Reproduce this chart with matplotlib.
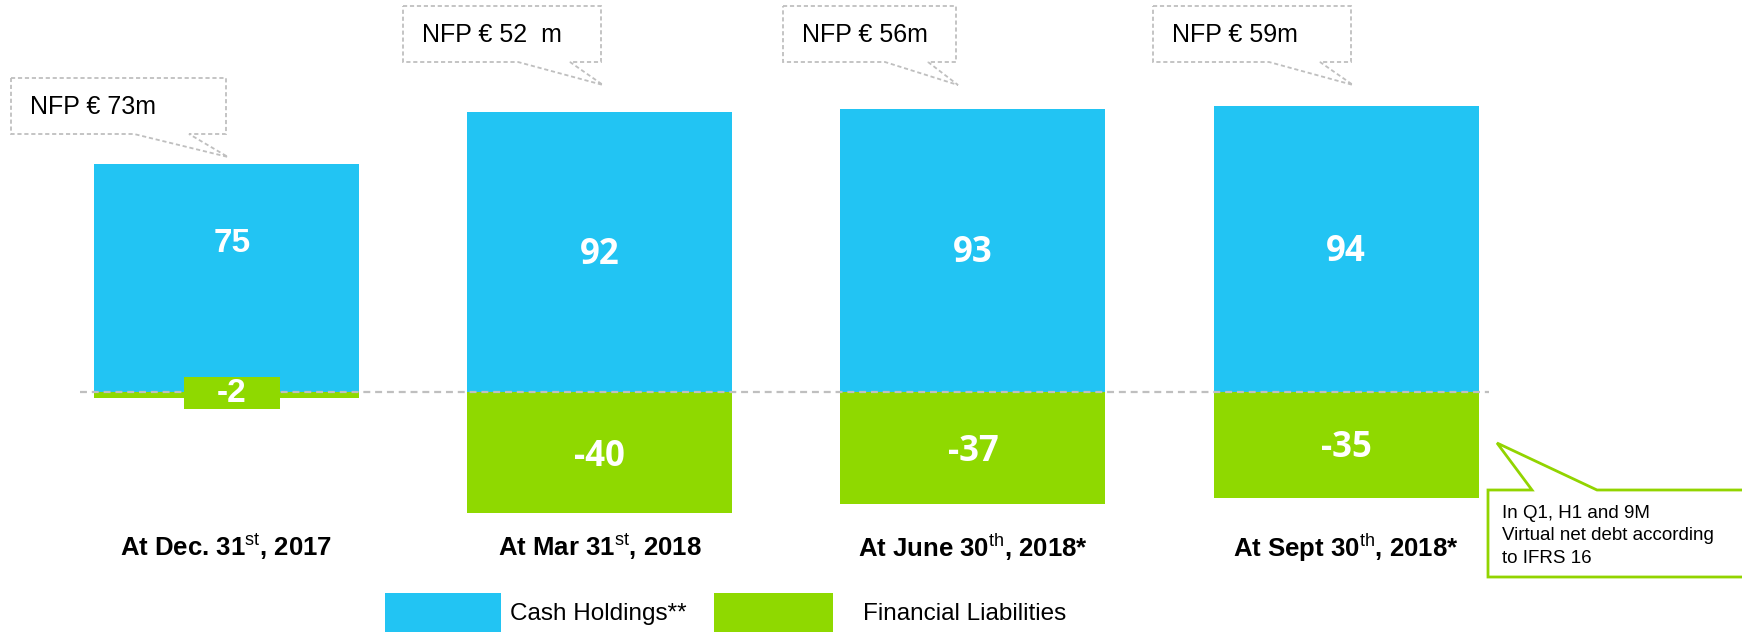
import matplotlib
matplotlib.use("Agg")
import matplotlib.pyplot as plt
from matplotlib.patches import Polygon, Rectangle

# Datos del gráfico
categories = [
    r"At Dec. 31$^{\rm st}$, 2017",
    r"At Mar 31$^{\rm st}$, 2018",
    r"At June 30$^{\rm th}$, 2018*",
    r"At Sept 30$^{\rm th}$, 2018*",
]
cash_holdings = [75, 92, 93, 94]
financial_liabilities = [-2, -40, -37, -35]
nfp_labels = ["NFP € 73m", "NFP € 52  m", "NFP € 56m", "NFP € 59m"]
note_text = "In Q1, H1 and 9M\nVirtual net debt according\nto IFRS 16"
legend_labels = ["Cash Holdings**", "Financial Liabilities"]

BLUE = "#22C4F3"
GREEN = "#8FD900"
GREY = "#BFBFBF"
NOTE_GREEN = "#92D400"

W, H = 1742, 632
plt.rcParams["font.family"] = ["Liberation Sans", "DejaVu Sans"]
plt.rcParams["mathtext.fontset"] = "custom"
plt.rcParams["mathtext.rm"] = "Liberation Sans"
plt.rcParams["lines.scale_dashes"] = False


def main():
    fig = plt.figure(figsize=(W / 100, H / 100), dpi=100)

    # Ejes principales: x = índice de barra, y = valor
    ax = fig.add_axes([0, 0, 1, 1])
    px_per_bar = 373.2
    px_per_unit = 3.04
    x0_px, zero_px = 226.5, 391.5
    ax.set_xlim(-x0_px / px_per_bar, (W - x0_px) / px_per_bar)
    ax.set_ylim(-(H - zero_px) / px_per_unit, zero_px / px_per_unit)
    ax.axis("off")

    xs = list(range(len(categories)))
    bar_w = 0.71
    ax.bar(xs, cash_holdings, width=bar_w, color=BLUE, zorder=2)
    ax.bar(xs, financial_liabilities, width=bar_w, color=GREEN, zorder=2)

    ax.plot([-0.3925, 3.383], [0, 0], color=GREY, lw=1.6,
            dashes=(5, 3.5), zorder=3)

    # Etiquetas de valores (la primera barra usa otra fuente en el original)
    val_font = dict(color="white", fontweight="bold", ha="center",
                    va="center", zorder=5)
    label_families = ["Liberation Sans", "Open Sans", "Open Sans", "Open Sans"]
    label_sizes = [24, 25, 25, 25]
    label_dx = [0.014, 0, 0, 0]
    cash_label_y = [48.7, 45, 45.4, 46]
    for x, v, ly, fam, fs, dx in zip(xs, cash_holdings, cash_label_y,
                                     label_families, label_sizes, label_dx):
        ax.text(x + dx, ly, str(v), family=fam, fontsize=fs, **val_font)
    for x, v, fam, fs, dx in zip(xs, financial_liabilities, label_families,
                                 label_sizes, label_dx):
        if v > -10:
            # etiqueta pequeña con fondo verde
            ax.add_patch(Rectangle((x + 0.015 - 0.1285, -5.76), 0.257, 10.53,
                                   fc=GREEN, ec="none", zorder=4))
            ax.text(x + dx, -0.6, str(v), family=fam, fontsize=fs, **val_font)
        else:
            ax.text(x + dx, v * 0.535, str(v), family=fam, fontsize=fs,
                    **val_font)

    for x, lab in zip(xs, categories):
        ax.text(x, -51.2, lab, ha="center", va="center", fontsize=18.5,
                fontweight="bold", color="black")

    # Capa decorativa en píxeles
    deco = fig.add_axes([0, 0, 1, 1], zorder=5)
    deco.set_xlim(0, W)
    deco.set_ylim(H, 0)
    deco.axis("off")
    deco.patch.set_alpha(0)

    boxes = [
        (11, 78, 226, 134, 134, 189, (228, 157)),
        (403, 6, 601, 62, 518, 570, (603, 85)),
        (783, 6, 956, 62, 885, 928, (958, 85)),
        (1153, 6, 1351, 62, 1269, 1320, (1353, 85)),
    ]
    for (bx0, by0, bx1, by1, b1, b2, tip), lab in zip(boxes, nfp_labels):
        pts = [(bx0, by0), (bx1, by0), (bx1, by1), (b2, by1), tip,
               (b1, by1), (bx0, by1)]
        deco.add_patch(Polygon(pts, closed=True, fc="white", ec=GREY,
                               lw=1.3, linestyle=(0, (3, 2))))
        deco.text(bx0 + 19, (by0 + by1) / 2 + 1, lab, ha="left",
                  va="center", fontsize=18, color="black")

    note_pts = [(1488, 490), (1532, 490), (1497, 443), (1597, 490),
                (1746, 490), (1746, 577), (1488, 577)]
    deco.add_patch(Polygon(note_pts, closed=True, fc="white",
                           ec=NOTE_GREEN, lw=2))
    deco.text(1502, 536, note_text, ha="left", va="center", fontsize=13.5,
              linespacing=1.4, color="black")

    # Leyenda
    deco.add_patch(Rectangle((385, 593), 116, 40, fc=BLUE, ec="none"))
    deco.add_patch(Rectangle((714, 593), 119, 40, fc=GREEN, ec="none"))
    deco.text(510, 614, legend_labels[0], ha="left", va="center",
              fontsize=17.5)
    deco.text(863, 614, legend_labels[1], ha="left", va="center",
              fontsize=17.5)

    fig.savefig("out.png", dpi=100)


if __name__ == "__main__":
    main()
